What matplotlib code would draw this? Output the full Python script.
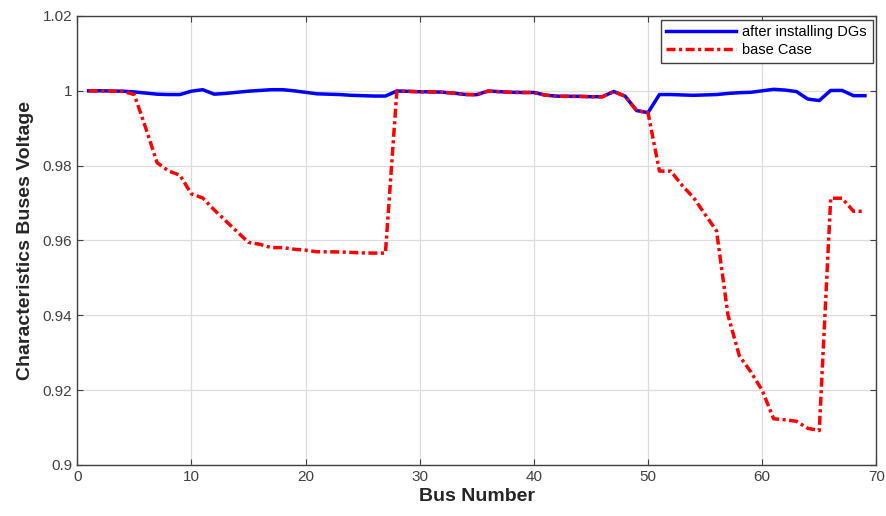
import matplotlib

matplotlib.use("Agg")
import matplotlib.pyplot as plt
import numpy as np

plt.rcParams["font.family"] = ["Liberation Sans", "DejaVu Sans"]

bus = np.arange(1, 70)

base_case = [
    1.0, 0.99997, 0.99993, 0.99984, 0.99902, 0.99009, 0.98079, 0.97858, 0.97745, 0.97245,
    0.97135, 0.96819, 0.96526, 0.96236, 0.95950, 0.95897, 0.95809, 0.95808, 0.95765, 0.95740,
    0.95698, 0.95697, 0.95692, 0.95680, 0.95667, 0.95662, 0.95661, 0.99993, 0.99985, 0.99973,
    0.99971, 0.99961, 0.99935, 0.99901, 0.99895, 0.99992, 0.99975, 0.99959, 0.99954, 0.99954,
    0.99884, 0.99855, 0.99851, 0.99850, 0.99841, 0.99840, 0.99979, 0.99854, 0.99470, 0.99415,
    0.97854, 0.97853, 0.97466, 0.97142, 0.96695, 0.96258, 0.94011, 0.92915, 0.92489, 0.91994,
    0.91234, 0.91205, 0.91167, 0.90977, 0.90919, 0.97129, 0.97129, 0.96779, 0.96779,
]

after_dg = [
    1.0, 1.0, 0.99995, 0.9999, 0.9997, 0.9994, 0.9991, 0.9990, 0.9990, 0.9999,
    1.0003, 0.9991, 0.9993, 0.9996, 0.9999, 1.0001, 1.0003, 1.0003, 1.0, 0.9996,
    0.9992, 0.9991, 0.9990, 0.9988, 0.9987, 0.9986, 0.9986, 0.99995, 0.99987, 0.99975,
    0.99973, 0.99963, 0.99937, 0.99903, 0.99897, 0.99994, 0.99977, 0.99961, 0.99956, 0.99956,
    0.99886, 0.99857, 0.99853, 0.99852, 0.99843, 0.99842, 0.99981, 0.99856, 0.99472, 0.99417,
    0.9990, 0.9990, 0.9989, 0.9988, 0.9989, 0.9990, 0.9993, 0.9995, 0.9996, 1.0,
    1.0004, 1.0002, 0.9998, 0.9978, 0.9974, 1.0001, 1.0001, 0.9987, 0.9987,
]

fig = plt.figure(figsize=(8.87, 5.16), dpi=100)
ax = fig.add_axes([0.087, 0.099, 0.901, 0.87])

ax.plot(bus, after_dg, color="blue", linewidth=2.5, label="after installing DGs")
ax.plot(bus, base_case, color="red", linewidth=2.5, linestyle="-.",
        dashes=(2.6, 1.0, 0.9, 1.0), label="base Case")

ax.set_xlim(0, 70)
ax.set_ylim(0.9, 1.02)
ax.set_xticks(np.arange(0, 71, 10))
ax.set_yticks([0.9, 0.92, 0.94, 0.96, 0.98, 1.0, 1.02])
ax.set_yticklabels(["0.9", "0.92", "0.94", "0.96", "0.98", "1", "1.02"])
ax.grid(True, color="#dcdcdc", linewidth=0.9)
ax.set_axisbelow(True)
ax.tick_params(direction="in", labelsize=11, colors="#404040", length=4,
               top=True, right=True)
for s in ax.spines.values():
    s.set_color("#404040")
    s.set_linewidth(1.0)

ax.set_xlabel("Bus Number", fontsize=14, fontweight="bold", color="#262626", labelpad=3)
ax.set_ylabel("Characteristics Buses Voltage", fontsize=14, fontweight="bold",
              color="#262626", labelpad=6)

leg = ax.legend(loc="upper right", fontsize=10.5, fancybox=False, edgecolor="#404040",
                framealpha=1, handlelength=4.8, borderaxespad=0.25, labelspacing=0.25,
                handletextpad=0.4, borderpad=0.4)
leg.get_frame().set_linewidth(1.0)

plt.savefig("out.png", dpi=100)
